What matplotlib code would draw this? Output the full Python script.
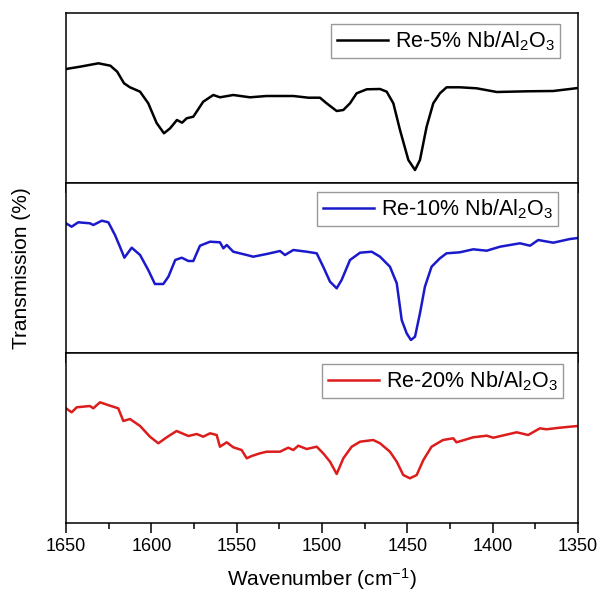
import numpy as np
import matplotlib
matplotlib.use('Agg')
import matplotlib.pyplot as plt
from matplotlib.ticker import MultipleLocator

plt.rcParams['font.family'] = ['Liberation Sans', 'DejaVu Sans']
plt.rcParams['mathtext.fontset'] = 'custom'
plt.rcParams['mathtext.rm'] = 'Liberation Sans'
plt.rcParams['mathtext.default'] = 'regular'

# Re-5% Nb/Al2O3 (arbitrary transmission units)
wn_5 = [1650, 1641.8, 1631, 1624, 1620, 1616, 1612.5, 1606.6, 1601.8, 1596.9,
        1592.6, 1589, 1585, 1582, 1579.3, 1575.4, 1569.6, 1563.7, 1559.8, 1552,
        1542.2, 1532.4, 1516.8, 1508, 1501.2, 1497.3, 1491.4, 1487.5, 1483.6,
        1479.7, 1473.8, 1466, 1462.1, 1458.2, 1454.3, 1449.4, 1445.5, 1442.6,
        1438.7, 1434.8, 1430.9, 1427, 1419.2, 1409.4, 1397.6, 1380, 1364.5,
        1354.7, 1350]
t_5 = [114, 116.3, 119.7, 117.3, 111.3, 99.7, 95.7, 91.3, 79.7, 60, 49.7, 54.7,
       63, 60.3, 64.7, 66.3, 81.3, 88, 85.7, 88, 85.7, 87, 87, 85.3, 85.3, 79.7,
       72, 73, 79.7, 89.7, 93.7, 94, 91.3, 79.7, 53, 23, 13, 23, 56.3, 79.7,
       89.7, 95.7, 95.7, 94.7, 91, 91.7, 92, 94, 95]

# Re-10% Nb/Al2O3
wn_10 = [1650, 1646.7, 1642.8, 1636, 1634, 1629, 1625.2, 1621.3, 1618.4, 1615.8,
         1611.5, 1606.6, 1601.8, 1597.9, 1593, 1590, 1586, 1582.2, 1578.3,
         1575.4, 1571.5, 1565.6, 1559.8, 1557.8, 1555.8, 1552, 1544.1, 1540.3,
         1532.4, 1524.6, 1521.7, 1516.8, 1509, 1503.1, 1499.3, 1495.3, 1491.4,
         1488.5, 1483.6, 1477.7, 1470.9, 1466, 1460.2, 1456.2, 1453.3, 1450.4,
         1447.9, 1445.5, 1442.6, 1439.7, 1435.8, 1430.9, 1427, 1419.2, 1411.4,
         1403.5, 1395.7, 1384, 1378.1, 1373.3, 1364.5, 1354.7, 1350]
t_10 = [129.7, 126.3, 130.7, 129.7, 128, 132.3, 130.7, 118, 106.3, 95.3, 105.3,
        98, 83, 69, 69, 76.3, 93, 95.3, 92, 92, 107.3, 111.3, 110.7, 104.7, 108,
        101.3, 98, 96.3, 99, 102, 98, 103, 101.3, 99.7, 86.3, 71.3, 64.7, 73, 93,
        100.3, 101.3, 96.3, 86.3, 69.7, 33, 19.7, 13, 16.3, 39.7, 66.3, 86.3,
        94.7, 99.7, 100.7, 103.7, 102.3, 106.3, 109.7, 107.3, 113, 110.3, 114,
        115]

# Re-20% Nb/Al2O3
wn_20 = [1650, 1646.7, 1643.7, 1636, 1634, 1630.1, 1624.2, 1619.4, 1616.4,
         1612.5, 1606.6, 1600.8, 1595.9, 1591, 1585.2, 1578.3, 1573.4, 1569.6,
         1565.6, 1561.7, 1559.8, 1555.8, 1552, 1547.1, 1544.1, 1541.2, 1536.3,
         1532.4, 1524.6, 1519.8, 1516.8, 1513.9, 1509, 1503.1, 1499.3, 1495.3,
         1491.4, 1487.5, 1482.6, 1477.7, 1470, 1466, 1460.2, 1456.2, 1452.4,
         1448.5, 1444.5, 1440.6, 1435.8, 1429.1, 1423.1, 1421.2, 1411.4, 1403.5,
         1399.6, 1385.9, 1379.2, 1372.3, 1368.5, 1360.6, 1354.7, 1350]
t_20 = [114.7, 110.7, 115.7, 117, 114.7, 120.7, 117.3, 114.7, 102, 104, 97,
        86.3, 79.7, 85.7, 92, 87, 89, 86.3, 89.7, 88, 76.3, 80.7, 75.7, 73, 64.7,
        67, 69.7, 71.3, 71.3, 75.3, 73, 77.3, 74, 76.3, 69.7, 61.3, 49, 64.7,
        76.3, 81.3, 83, 79.7, 71.3, 61.3, 48, 44.7, 48, 63, 76.3, 83, 84.7, 80.7,
        85.7, 87.3, 85.3, 90.7, 88, 94.7, 93.7, 95.3, 96.3, 97]

labels = ['Re-5% Nb/Al$_2$O$_3$', 'Re-10% Nb/Al$_2$O$_3$', 'Re-20% Nb/Al$_2$O$_3$']
colors = ['#000000', '#1a1acc', '#dd1c1c']
series = [(wn_5, t_5), (wn_10, t_10), (wn_20, t_20)]
legend_anchor = [(0.965, 0.935), (0.961, 0.947), (0.971, 0.935)]

fig = plt.figure(figsize=(6.03, 6.03), dpi=100)
left, width = 66 / 603, 512 / 603
h = 170 / 603
bottoms = [1 - 183 / 603, 1 - 353 / 603, 1 - 523 / 603]

axes = []
for i, ((wn, t), lab, col) in enumerate(zip(series, labels, colors)):
    ax = fig.add_axes([left, bottoms[i], width, h])
    ax.plot(wn, t, color=col, lw=1.8, label=lab)
    ax.set_xlim(1650, 1350)
    ax.set_ylim(0, 170)
    ax.set_yticks([])
    ax.xaxis.set_major_locator(MultipleLocator(50))
    ax.xaxis.set_minor_locator(MultipleLocator(25))
    ax.tick_params(axis='x', which='major', direction='out', length=7,
                   width=1.1, labelsize=13)
    ax.tick_params(axis='x', which='minor', direction='out', length=4, width=1.1)
    for s in ax.spines.values():
        s.set_linewidth(1.1)
    if i < 2:
        ax.tick_params(axis='x', labelbottom=False)
    leg = ax.legend(loc='upper right', fontsize=15.5, frameon=True, fancybox=False,
                    handlelength=2.4, borderpad=0.25, handletextpad=0.3,
                    borderaxespad=0, bbox_to_anchor=legend_anchor[i])
    leg.get_frame().set_edgecolor('#808080')
    leg.get_frame().set_linewidth(1.0)
    axes.append(ax)

axes[-1].set_xlabel('Wavenumber (cm$^{-1}$)', fontsize=15, labelpad=8)
fig.text(0.035, 0.555, 'Transmission (%)', rotation=90, fontsize=15,
         ha='center', va='center')

fig.savefig('out.png', dpi=100)
